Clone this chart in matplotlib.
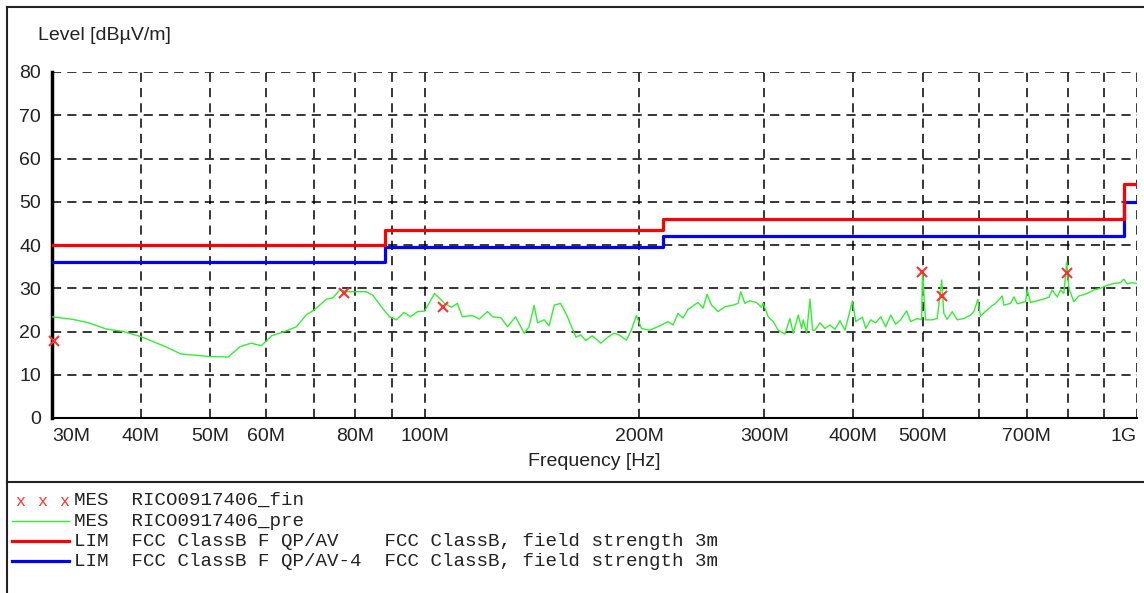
import numpy as np
import matplotlib
matplotlib.use("Agg")
import matplotlib.pyplot as plt
from matplotlib.ticker import FixedLocator, FixedFormatter, NullLocator

plt.rcParams['font.family'] = ['Liberation Sans', 'DejaVu Sans']

# pre-scan trace (MHz, dBuV/m)
freq_pre = [30.0, 32.1, 33.8, 35.7, 37.8, 40.0, 43.3, 45.5, 50.0, 53.0,
            55.1, 57.1, 59.0, 61.0, 63.6, 66.1, 68.2, 70.0, 72.9, 74.4,
            76.0, 77.7, 82.8, 84.6, 87.0, 89.3, 91.3, 93.6, 95.6, 97.8,
            100.0, 103.3, 106.7, 109.1, 111.2, 113.0, 116.7, 119.4, 122.6, 124.6,
            128.0, 130.8, 134.2, 138.0, 140.2, 142.5, 144.1, 147.2, 149.6, 152.1,
            155.3, 158.7, 163.1, 165.7, 168.4, 172.0, 176.8, 180.6, 184.5, 187.5,
            192.0, 195.1, 198.3, 201.6, 207.0, 213.9, 219.7, 223.3, 226.9, 230.6,
            234.3, 242.0, 246.0, 249.2, 252.8, 258.2, 263.9, 271.1, 275.5, 277.9,
            281.5, 286.1, 292.4, 297.1, 298.7, 303.7, 308.6, 313.6, 320.5, 325.7,
            329.2, 334.6, 338.3, 340.0, 343.8, 347.5, 350.5, 353.2, 358.9, 364.8,
            370.7, 376.8, 382.9, 389.2, 398.7, 402.9, 411.7, 416.2, 422.9, 429.8,
            436.8, 443.9, 451.2, 458.5, 465.9, 475.0, 481.1, 491.6, 498.5, 500.0,
            504.9, 515.9, 524.3, 532.0, 535.6, 541.5, 550.3, 559.3, 571.4, 583.9,
            590.2, 598.0, 603.0, 609.6, 622.9, 633.0, 647.0, 650.4, 664.5, 671.7,
            679.1, 697.5, 701.3, 708.8, 732.1, 752.0, 760.4, 772.7, 781.0, 789.4,
            797.0, 802.3, 815.3, 828.6, 851.4, 869.8, 888.8, 908.2, 927.7, 948.1,
            958.3, 968.9, 984.7, 1000.0]
level_pre = [23.4, 22.8, 22.0, 20.6, 20.0, 18.8, 16.5, 14.8, 14.2, 14.1,
             16.5, 17.3, 16.7, 19.0, 20.0, 21.1, 23.8, 25.0, 27.5, 27.8,
             29.6, 29.2, 29.2, 28.4, 25.7, 23.4, 22.7, 24.4, 23.4, 24.6,
             24.7, 28.8, 26.5, 25.6, 26.5, 23.4, 23.7, 22.9, 24.6, 23.4,
             23.2, 21.1, 23.4, 19.6, 21.1, 26.0, 22.0, 22.7, 21.3, 26.1,
             26.5, 23.4, 18.7, 19.2, 17.9, 19.0, 17.3, 18.6, 19.6, 19.2,
             18.0, 20.3, 23.7, 20.7, 20.3, 21.3, 22.3, 21.5, 24.2, 23.1,
             25.1, 26.7, 25.4, 28.6, 26.1, 24.6, 25.7, 26.1, 26.5, 29.2,
             26.5, 27.1, 26.7, 25.6, 26.5, 23.4, 22.3, 20.3, 19.4, 23.0,
             19.6, 23.8, 20.7, 22.7, 19.6, 27.5, 20.3, 20.3, 22.0, 20.7,
             21.5, 20.5, 22.5, 20.3, 27.1, 22.3, 23.3, 20.7, 22.7, 22.0,
             23.4, 21.1, 23.8, 21.7, 22.7, 24.8, 22.3, 23.0, 22.7, 34.0,
             22.7, 22.7, 23.0, 31.9, 24.2, 22.8, 24.6, 22.7, 23.0, 23.8,
             24.6, 27.4, 23.5, 24.3, 25.7, 26.5, 28.2, 26.1, 26.5, 28.0,
             26.4, 26.9, 29.6, 26.7, 27.3, 27.9, 29.6, 28.0, 29.6, 28.8,
             36.1, 30.0, 26.9, 28.2, 28.8, 29.6, 30.0, 30.7, 31.1, 31.3,
             32.1, 31.0, 31.3, 31.1]

# final measurement points
freq_fin = [30.2, 77.0, 106.1, 499.8, 532.0, 797.0]
level_fin = [17.9, 29.0, 25.6, 33.8, 28.3, 33.5]

# limit lines (step edges in MHz)
lim_edges = [30, 88, 216, 960, 1000]
lim_qp = [40, 43.5, 46, 54]
lim_av = [36, 39.5, 42, 50]

grid_freqs = [30, 40, 50, 60, 70, 80, 90, 100, 200, 300, 400, 500,
              600, 700, 800, 900, 1000]
label_freqs = [30, 40, 50, 60, 80, 100, 200, 300, 400, 500, 700, 1000]
label_text = ['30M', '40M', '50M', '60M', '80M', '100M', '200M', '300M',
              '400M', '500M', '700M', '1G']

W, H = 1144, 593
fig = plt.figure(figsize=(W / 100, H / 100), dpi=100)

def fx(px):
    return px / W

def fy(py):
    return 1 - py / H

ax = fig.add_axes([fx(52), fy(418), fx(1137) - fx(52), fy(72) - fy(418)])
ax.set_xscale('log')
ax.set_xlim(30, 1000)
ax.set_ylim(0, 80)

# grid
for f in grid_freqs[1:]:
    ax.axvline(f, color='black', lw=1.1, ls=(0, (6, 4)), zorder=1)
for v in range(10, 81, 10):
    ax.axhline(v, color='black', lw=1.1, ls=(0, (6, 4)), zorder=1)

ax.plot(freq_pre, level_pre, color='#33ee33', lw=1.0, zorder=3)

def step_xy(edges, vals):
    xs, ys = [], []
    for i, v in enumerate(vals):
        xs += [edges[i], edges[i + 1]]
        ys += [v, v]
    return xs, ys

xq, yq = step_xy(lim_edges, lim_qp)
xa, ya = step_xy(lim_edges, lim_av)
ax.plot(xa, ya, color='#0000ff', lw=2.3, zorder=4)
ax.plot(xq, yq, color='#ff0000', lw=2.3, zorder=4)

ax.plot(freq_fin, level_fin, ls='none', marker='x', color='#ff3030',
        ms=7, mew=1.5, zorder=5, clip_on=False)

ax.xaxis.set_major_locator(FixedLocator(label_freqs))
ax.xaxis.set_major_formatter(FixedFormatter(label_text))
ax.xaxis.set_minor_locator(NullLocator())
ax.set_yticks(range(0, 81, 10))
ax.tick_params(axis='both', length=0, labelsize=14, colors='#222222')
ax.tick_params(axis='x', pad=7)
ax.tick_params(axis='y', pad=8)
xt = ax.get_xticklabels()
xt[0].set_horizontalalignment('left')
xt[-1].set_horizontalalignment('right')

for s in ['top', 'right']:
    ax.spines[s].set_visible(False)
ax.spines['left'].set_linewidth(2.5)
ax.spines['bottom'].set_linewidth(1.5)

fig.text(fx(38), fy(35), 'Level [dB\u00b5V/m]', fontsize=14, va='center', ha='left',
         color='#222222')
fig.text(fx(594), fy(461), 'Frequency [Hz]', fontsize=14, va='center', ha='center',
         color='#222222')

# outer frame and separator
fig.add_artist(plt.Line2D([fx(7), fx(7)], [fy(7), 0], color='#222222', lw=1.5))
fig.add_artist(plt.Line2D([fx(7), 1], [fy(7), fy(7)], color='#222222', lw=1.5))
fig.add_artist(plt.Line2D([fx(7), 1], [fy(482), fy(482)], color='#222222', lw=1.5))

# legend block
mono = ['Liberation Mono', 'DejaVu Sans Mono']
rows = [(500, 'MES  RICO0917406_fin'),
        (521, 'MES  RICO0917406_pre'),
        (541, 'LIM  FCC ClassB F QP/AV    FCC ClassB, field strength 3m'),
        (561, 'LIM  FCC ClassB F QP/AV-4  FCC ClassB, field strength 3m')]
for py, txt in rows:
    fig.text(fx(74), fy(py), txt, family=mono, fontsize=13.8, va='center', ha='left',
             color='#222222')

for px in [20, 42, 64]:
    fig.text(fx(px), fy(501), 'x', family=mono, fontsize=12, color='#ff3030',
             va='center', ha='center')
fig.add_artist(plt.Line2D([fx(12), fx(69)], [fy(521), fy(521)], color='#33ee33', lw=1.0))
fig.add_artist(plt.Line2D([fx(12), fx(69)], [fy(541), fy(541)], color='#ff0000', lw=2.3))
fig.add_artist(plt.Line2D([fx(12), fx(69)], [fy(561), fy(561)], color='#0000ff', lw=2.3))

fig.savefig('out.png', dpi=100, facecolor='white')
